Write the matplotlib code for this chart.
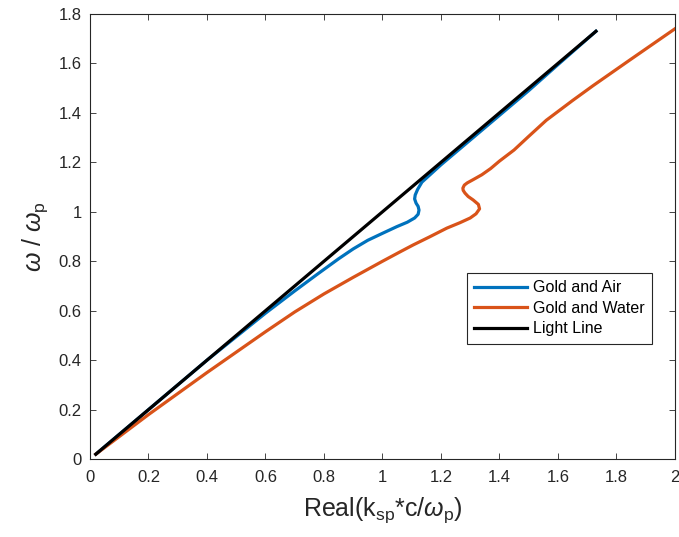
import numpy as np
import matplotlib
matplotlib.use('Agg')
import matplotlib.pyplot as plt

plt.rcParams['font.family'] = ['Liberation Sans', 'DejaVu Sans']
plt.rcParams['mathtext.fontset'] = 'custom'
plt.rcParams['mathtext.rm'] = 'Liberation Sans'
plt.rcParams['mathtext.it'] = 'Liberation Sans:italic'

# light line
light_x = [0.02, 1.73]
light_y = [0.02, 1.73]

# gold / air surface plasmon branch
air_x = [0.02, 0.2, 0.4, 0.5, 0.6, 0.7, 0.78, 0.85, 0.9, 0.95, 1.0, 1.049, 1.085, 1.11, 1.122, 1.125,
         1.122, 1.115, 1.11, 1.112, 1.12, 1.135, 1.2, 1.3, 1.4, 1.5, 1.6, 1.73]
air_y = [0.02, 0.2, 0.4, 0.495, 0.59, 0.68, 0.75, 0.81, 0.85, 0.885, 0.913, 0.94, 0.958, 0.975, 0.99, 1.007,
         1.022, 1.035, 1.052, 1.068, 1.09, 1.12, 1.19, 1.29, 1.39, 1.49, 1.595, 1.73]

# gold / water surface plasmon branch
water_x = [0.02, 0.2, 0.4, 0.6, 0.7, 0.8, 0.9, 1.0, 1.06, 1.105, 1.16, 1.22, 1.265, 1.30, 1.32, 1.332,
           1.328, 1.31, 1.293, 1.282, 1.276, 1.275, 1.28, 1.29, 1.31, 1.34, 1.37, 1.40, 1.45, 1.50,
           1.56, 1.65, 1.72, 1.846, 2.0]
water_y = [0.02, 0.18, 0.35, 0.515, 0.595, 0.668, 0.735, 0.8, 0.838, 0.866, 0.898, 0.934, 0.956, 0.975, 0.992, 1.012,
           1.03, 1.048, 1.062, 1.076, 1.087, 1.096, 1.108, 1.117, 1.13, 1.15, 1.175, 1.205, 1.25, 1.305,
           1.37, 1.45, 1.51, 1.614, 1.74]

fig = plt.figure(figsize=(6.79, 5.37), dpi=100)
ax = fig.add_axes([0.1325, 0.145, 0.8615, 0.829])

ax.plot(air_x, air_y, color='#0072BD', lw=2.3, label='Gold and Air')
ax.plot(water_x, water_y, color='#D95319', lw=2.3, label='Gold and Water')
ax.plot(light_x, light_y, color='black', lw=2.3, label='Light Line')

ax.set_xlim(0, 2)
ax.set_ylim(0, 1.8)
ax.set_xticks(np.arange(0, 2.01, 0.2))
ax.set_yticks(np.arange(0, 1.81, 0.2))
ax.set_xticklabels(['0', '0.2', '0.4', '0.6', '0.8', '1', '1.2', '1.4', '1.6', '1.8', '2'])
ax.set_yticklabels(['0', '0.2', '0.4', '0.6', '0.8', '1', '1.2', '1.4', '1.6', '1.8'])
ax.tick_params(direction='in', top=True, right=True, length=4, width=0.6,
               labelsize=12, colors='#262626')
ax.tick_params(axis='x', pad=8)
ax.tick_params(axis='y', pad=6)
for s in ax.spines.values():
    s.set_color('#262626')
    s.set_linewidth(0.8)

ax.set_xlabel(r'Real(k$_{\rm sp}$*c/$\omega_{\rm p}$)', fontsize=18, color='#262626', labelpad=7)
ax.set_ylabel(r'$\omega$ / $\omega_{\rm p}$', fontsize=18, color='#262626', labelpad=6)

leg = ax.legend(loc='upper left', bbox_to_anchor=(0.644, 0.418), borderaxespad=0, fontsize=11.5,
                fancybox=False, framealpha=1, edgecolor='#262626', handlelength=3.3,
                borderpad=0.45, labelspacing=0.35, handletextpad=0.4)
leg.get_frame().set_linewidth(0.8)

fig.savefig('out.png', dpi=100)
